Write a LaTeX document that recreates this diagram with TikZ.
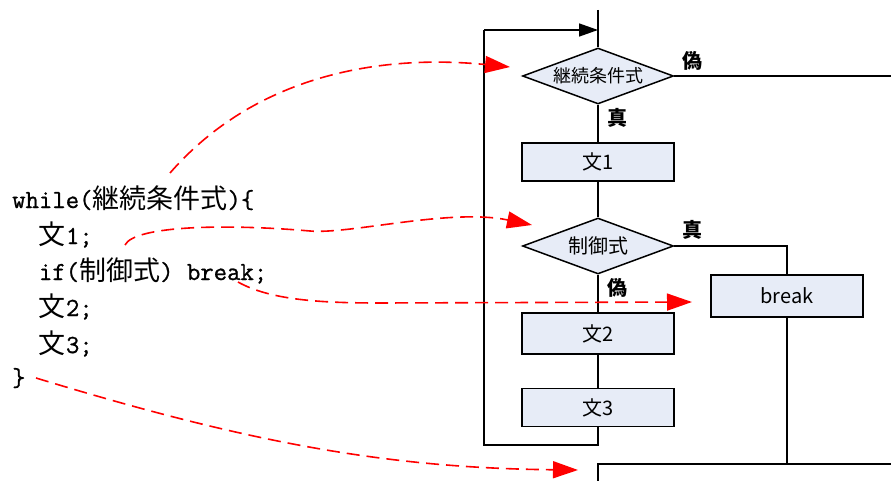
\documentclass[tikz,border=0pt]{standalone}
\usepackage{fontspec}
\newfontfamily\cjk{Noto Sans CJK JP}
\newfontfamily\codett{Latin Modern Mono}[FakeBold=0.9]
\usetikzlibrary{shapes.geometric,arrows.meta}
\definecolor{boxfill}{RGB}{231,236,247}
\definecolor{redline}{RGB}{255,0,0}
\newcommand\jc[1]{{\cjk\fontsize{27}{27}\selectfont #1}}
\begin{document}
\begin{tikzpicture}[x=1pt,y=-1pt,
  flow/.style={line width=1.5pt,draw=black},
  stmt/.style={rectangle,draw=black,line width=1.5pt,fill=boxfill,minimum width=152pt,inner sep=0pt,font=\cjk\fontsize{20}{20}\selectfont},
  cond/.style={diamond,draw=black,line width=1.5pt,fill=boxfill,minimum width=151pt,minimum height=56pt,inner sep=0pt},
  lbl/.style={font=\cjk\bfseries\fontsize{20}{20}\selectfont,inner sep=0pt},
  code/.style={anchor=base west,inner sep=0pt,font=\codett\fontsize{26}{26}\selectfont},
  redarrow/.style={draw=redline,line width=1.6pt,dash pattern=on 13pt off 7pt,-{Triangle[length=25pt,width=17pt,fill=redline]}},
  blkarrow/.style={flow,-{Triangle[length=19pt,width=13pt]}}
]
\useasboundingbox (0,0) rectangle (891,481);

% code
\node[code] (c1) at (12,208) {while(\jc{継続条件式})\{};
\node[code] (c2) at (12,244) {\ \ \jc{文}1;};
\node[code] (c3) at (12,280) {\ \ if(\jc{制御式}) break;};
\node[code] (c4) at (12,316) {\ \ \jc{文}2;};
\node[code] (c5) at (12,353) {\ \ \jc{文}3;};
\node[code] (c6) at (12,386) {\}};

% flowchart nodes
\coordinate (top) at (598,10);
\node[cond,label={[font=\cjk\fontsize{18}{18}\selectfont]center:継続条件式}] (d1) at (598,76) {};
\node[stmt,minimum height=38pt] (s1) at (598,162) {文1};
\node[cond,label={[font=\cjk\fontsize{20}{20}\selectfont]center:制御式}] (d2) at (598,246) {};
\node[stmt,minimum height=42pt] (brk) at (787,296) {break};
\node[stmt,minimum height=41pt] (s2) at (598,333.5) {文2};
\node[stmt,minimum height=38pt] (s3) at (598,407.5) {文3};

\node[lbl] (f1) at (692,61) {偽};
\node[lbl] (t1) at (617,118) {真};
\node[lbl] (t2) at (692,230) {真};
\node[lbl] (f2) at (617,288) {偽};

\coordinate (loopbot) at (598,445);
\coordinate (loopl) at (484,445);
\coordinate (loopt) at (484,30);
\coordinate (looptop) at (598,30);
\coordinate (exitR) at (891,76);
\coordinate (brkcorner) at (787,246);
\coordinate (join) at (787,464);
\coordinate (exitbotL) at (598,481);
\coordinate (exitmid) at (598,464);
\coordinate (exitbotR) at (891,464);

% flow lines
\draw[flow] (top) -- (d1.north);
\draw[flow] (d1.south) -- (s1.north);
\draw[flow] (s1.south) -- (d2.north);
\draw[flow] (d2.south) -- (s2.north);
\draw[flow] (s2.south) -- (s3.north);
\draw[flow] (s3.south) -- (loopbot) -- (loopl) -- (loopt);
\draw[blkarrow] (loopt) -- (looptop);
\draw[flow] (d1.east) -- (exitR);
\draw[flow] (d2.east) -- (brkcorner) -- (brk.north);
\draw[flow] (brk.south) -- (join);
\draw[flow] (exitbotL) -- (exitmid) -- (exitbotR);

% red dashed arrows
\coordinate (a1s) at (170,173);
\coordinate (a1e) at (510,67);
\coordinate (a2s) at (125,245);
\coordinate (a2m) at (310,231);
\coordinate (a2e) at (532,225);
\coordinate (a3s) at (238,282);
\coordinate (a3m) at (380,303);
\coordinate (a3e) at (692,302);
\coordinate (a4s) at (36,378);
\coordinate (a4e) at (578,470);

\draw[redarrow] (a1s) .. controls (260,70) and (390,55) .. (a1e);
\draw[redarrow] (a2s) .. controls (135,225) and (230,224) .. (a2m) .. controls (350,234.5) and (450,208) .. (a2e);
\draw[redarrow] (a3s) .. controls (270,300) and (320,303) .. (a3m) -- (a3e);
\draw[redarrow] (a4s) .. controls (240,440) and (380,468) .. (a4e);
\end{tikzpicture}
\end{document}
